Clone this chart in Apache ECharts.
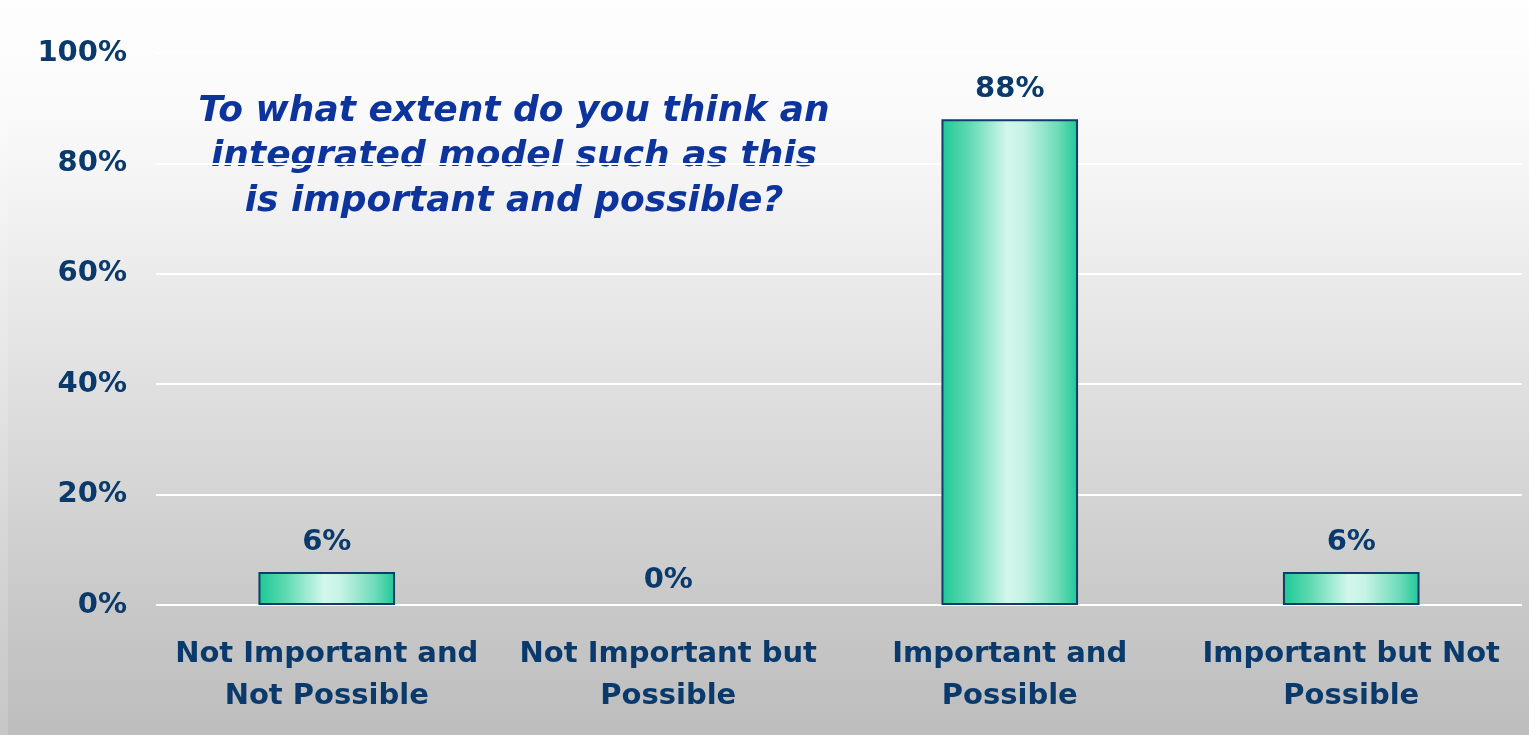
<!DOCTYPE html>
<html>
<head>
<meta charset="utf-8">
<script src="https://cdn.jsdelivr.net/npm/echarts@6/dist/echarts.min.js"></script>
<style>
html,body{margin:0;padding:0;background:#fff;}
#c{width:1529px;height:735px;}
</style>
</head>
<body>
<div id="c"></div>
<script>
const categories = ['Not Important and\nNot Possible', 'Not Important but\nPossible', 'Important and\nPossible', 'Important but Not\nPossible'];
const values = [6, 0, 88, 6];
const yTicks = [0, 20, 40, 60, 80, 100];
const titleText = 'To what extent do you think an\nintegrated model such as this\nis important and possible?';

const navy = '#0a3a6c';
const seriesData = values.map(v => v === 0
  ? {value: v, itemStyle: {borderWidth: 0}, label: {distance: 10}}
  : {value: v});

const chart = echarts.init(document.getElementById('c'), null, {renderer: 'canvas'});
chart.setOption({
  backgroundColor: {
    type: 'linear', x: 0, y: 0, x2: 0, y2: 1,
    colorStops: [
      {offset: 0, color: '#fefefe'},
      {offset: 0.15, color: '#fafafa'},
      {offset: 0.25, color: '#f4f4f4'},
      {offset: 0.52, color: '#e0e0e0'},
      {offset: 0.82, color: '#c9c9c9'},
      {offset: 1, color: '#bdbdbd'}
    ]
  },
  grid: {left: 156, right: 7, top: 53, bottom: 130, containLabel: false},
  xAxis: {
    type: 'category',
    data: categories,
    axisLine: {show: false},
    axisTick: {show: false},
    axisLabel: {
      interval: 0, margin: 28,
      color: navy, fontFamily: 'DejaVu Sans', fontWeight: 'bold', fontSize: 29, lineHeight: 42
    }
  },
  yAxis: {
    type: 'value', min: yTicks[0], max: yTicks[yTicks.length - 1], interval: 20,
    axisLine: {show: false},
    axisTick: {show: false},
    splitLine: {show: true, lineStyle: {color: '#ffffff', width: 2}},
    axisLabel: {
      formatter: '{value}%', margin: 29,
      color: navy, fontFamily: 'DejaVu Sans', fontWeight: 'bold', fontSize: 29
    }
  },
  series: [{
    type: 'bar',
    data: seriesData,
    barWidth: '40%',
    itemStyle: {
      borderColor: '#123a6a', borderWidth: 2,
      color: {
        type: 'linear', x: 0, y: 0, x2: 1, y2: 0,
        colorStops: [
          {offset: 0, color: '#1cc896'},
          {offset: 0.2, color: '#5fd9b2'},
          {offset: 0.48, color: '#d2f7ec'},
          {offset: 0.6, color: '#c6f3e5'},
          {offset: 0.85, color: '#6fdcb9'},
          {offset: 1, color: '#1cc896'}
        ]
      }
    },
    label: {
      show: true, position: 'top', distance: 15,
      formatter: '{c}%',
      color: navy, fontFamily: 'DejaVu Sans', fontWeight: 'bold', fontSize: 29
    }
  }],
  graphic: [{
    type: 'rect', left: 0, top: 0, z: 100,
    shape: {width: 8, height: 735},
    style: {fill: 'rgba(255,255,255,0.15)'},
    silent: true
  }, {
    type: 'text', x: 514, y: 89,
    style: {
      text: titleText,
      textAlign: 'center', textVerticalAlign: 'top',
      fill: '#0d349c',
      fontFamily: 'DejaVu Sans', fontStyle: 'italic', fontWeight: 'bold', fontSize: 36, lineHeight: 45
    }
  }]
});
</script>
</body>
</html>
